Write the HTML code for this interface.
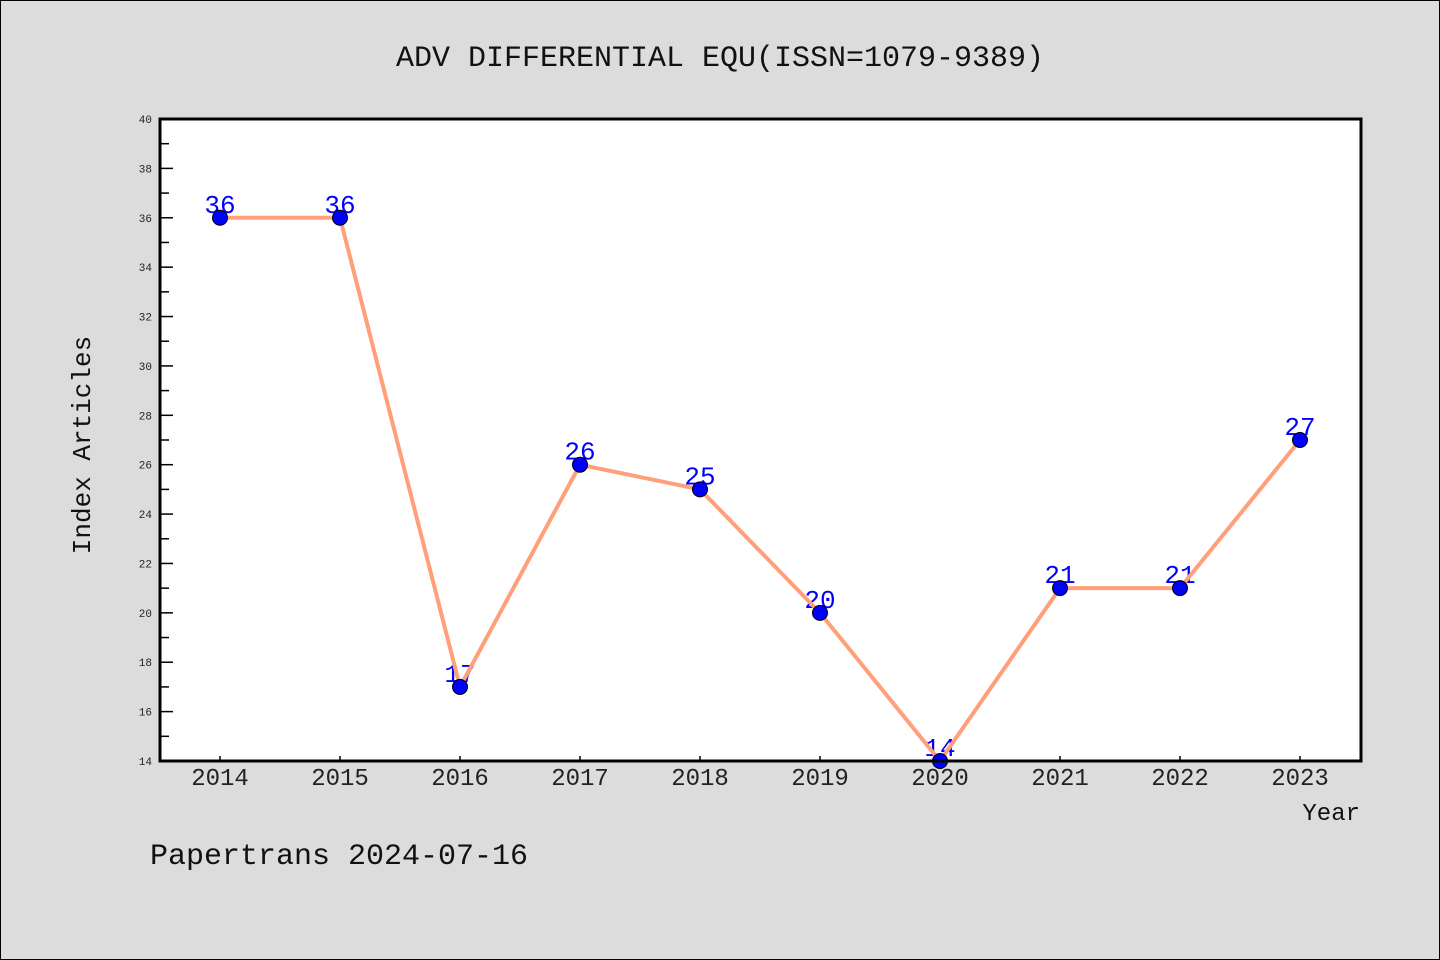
<!DOCTYPE html>
<html><head><meta charset="utf-8"><style>
html,body{margin:0;padding:0;background:#dcdcdc;}
svg{display:block;font-family:"Liberation Mono","DejaVu Sans Mono",monospace;}
</style></head><body>
<svg id="chart" width="1440" height="960" viewBox="0 0 1440 960">
<rect x="0.5" y="0.5" width="1439" height="959" fill="#dcdcdc" stroke="#000" stroke-width="1"/>
<text x="720" y="66" text-anchor="middle" font-size="30" fill="#111">ADV DIFFERENTIAL EQU(ISSN=1079-9389)</text>
<rect x="160" y="119" width="1201" height="642" fill="#fff"/>
<g id="yaxis"></g>
<g id="xaxis"></g>
<g id="labels"></g>
<g id="series"></g>
<rect x="160" y="119" width="1201" height="642" fill="none" stroke="#000" stroke-width="3"/>
<text x="90" y="445" text-anchor="middle" font-size="26" fill="#111" transform="rotate(-90 90 445)">Index Articles</text>
<text x="1360" y="820" text-anchor="end" font-size="24" fill="#111">Year</text>
<text x="150" y="864" font-size="30" fill="#111">Papertrans 2024-07-16</text>
</svg>
<script>
const years = ["2014","2015","2016","2017","2018","2019","2020","2021","2022","2023"];
const counts = [36,36,17,26,25,20,14,21,21,27];
const yTicks = [14,16,18,20,22,24,26,28,30,32,34,36,38,40];
const yMin = 14, yMax = 40;
const NS = "http://www.w3.org/2000/svg";
const L = 160, R = 1361, T = 119, B = 761;
function xs(i){ return 220 + i*120; }
function ys(v){ return B - (v - yMin)/(yMax - yMin)*(B - T); }
function mk(tag, attrs, parent){ const e=document.createElementNS(NS,tag); for(const k in attrs) e.setAttribute(k,attrs[k]); parent.appendChild(e); return e; }
const ya=document.getElementById('yaxis'), xa=document.getElementById('xaxis'), lb=document.getElementById('labels'), se=document.getElementById('series');
yTicks.forEach((v,i)=>{
  const y=ys(v);
  const t=mk('line',{x1:L,x2:L+13,y1:y,y2:y,stroke:'#000','stroke-width':1.5},ya);
  
  
  const tx=mk('text',{x:152,y:y+4,'text-anchor':'end','font-size':11,fill:'#222'},ya);
  tx.textContent=v;
  
  
  if(i<yTicks.length-1){
    const ym=ys(v+(yTicks[1]-yTicks[0])/2);
    const m=mk('line',{x1:L,x2:L+9,y1:ym,y2:ym,stroke:'#000','stroke-width':1.5},ya);
    
    
  }
});
years.forEach((yr,i)=>{
  const x=xs(i);
  const t=mk('line',{x1:x,x2:x,y1:B,y2:B-5,stroke:'#000','stroke-width':1.5},xa);
  
  
  const tx=mk('text',{x:x,y:785,'text-anchor':'middle','font-size':24,fill:'#222'},xa);
  tx.textContent=yr;
  
  
  const vl=mk('text',{x:x,y:ys(counts[i])-5,'text-anchor':'middle','font-size':26,fill:'#0000ff'},lb);
  vl.textContent=counts[i];
  
  
});
const line=mk('polyline',{points:counts.map((v,i)=>xs(i)+','+ys(v)).join(' '),fill:'none',stroke:'#ffa07a','stroke-width':4,'stroke-linejoin':'round'},se);


counts.forEach((v,i)=>{
  const c=mk('circle',{cx:xs(i),cy:ys(v),r:7.5,fill:'#0000ff',stroke:'#000','stroke-width':1},se);
  
  
});
</script>
</body></html>
